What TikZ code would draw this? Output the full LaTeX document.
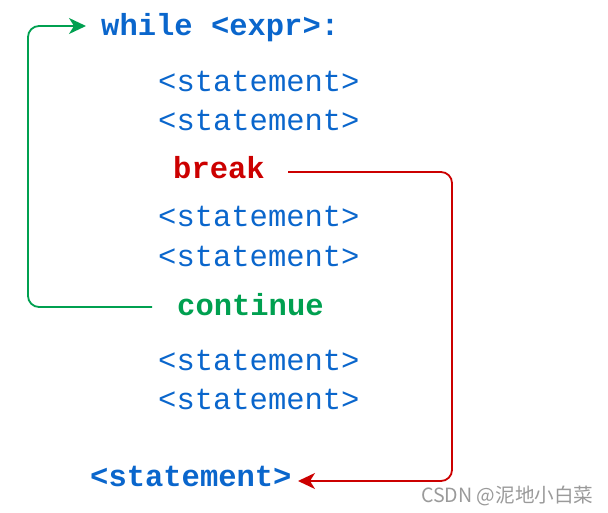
\documentclass[tikz,border=0pt]{standalone}
\usepackage{fontspec}
\setmonofont{Liberation Mono}
\newfontfamily\cjkfont{Noto Sans CJK SC}
\usetikzlibrary{arrows.meta}
\definecolor{cblue}{HTML}{0A66CC}
\definecolor{cred}{HTML}{CC0000}
\definecolor{cgreen}{HTML}{00A050}
\definecolor{cgray}{HTML}{9A9A9A}
\begin{document}
\begin{tikzpicture}[x=1pt,y=-1pt,
  code/.style={anchor=base west,inner sep=0pt,font=\fontsize{30.5}{32}\selectfont\ttfamily},
  kw/.style={code,font=\fontsize{30.5}{32}\selectfont\ttfamily\bfseries},
  conn/.style={line width=1.8pt,rounded corners=11pt},
  tip/.style={-{Stealth[length=17pt,width=16pt,inset=5pt]}}]
\useasboundingbox (0,0) rectangle (608,513);
\node[kw,text=cblue] (while) at (101,36) {while <expr>:};
\node[code,text=cblue] (s1) at (158,92) {<statement>};
\node[code,text=cblue] (s2) at (158,131) {<statement>};
\node[kw,text=cred] (brk) at (173,179) {break};
\node[code,text=cblue] (s3) at (158,227) {<statement>};
\node[code,text=cblue] (s4) at (158,266) {<statement>};
\node[kw,text=cgreen] (cont) at (177,315) {continue};
\node[code,text=cblue] (s5) at (158,370) {<statement>};
\node[code,text=cblue] (s6) at (158,409) {<statement>};
\node[kw,text=cblue] (fin) at (90,486) {<statement>};
\node[anchor=base west,inner sep=0pt,text=cgray,font=\fontsize{19.6}{21}\cjkfont] (wm) at (421,502) {CSDN @泥地小白菜};
\coordinate (gs) at (152,307);
\coordinate (ge) at (86,26);
\draw[conn,tip,cgreen] (gs) -- (28,307) -- (28,26) -- (ge);
\coordinate (rs) at (288,172);
\coordinate (re) at (298,481);
\draw[conn,tip,cred] (rs) -- (452,172) -- (452,481) -- (re);
\end{tikzpicture}
\end{document}
